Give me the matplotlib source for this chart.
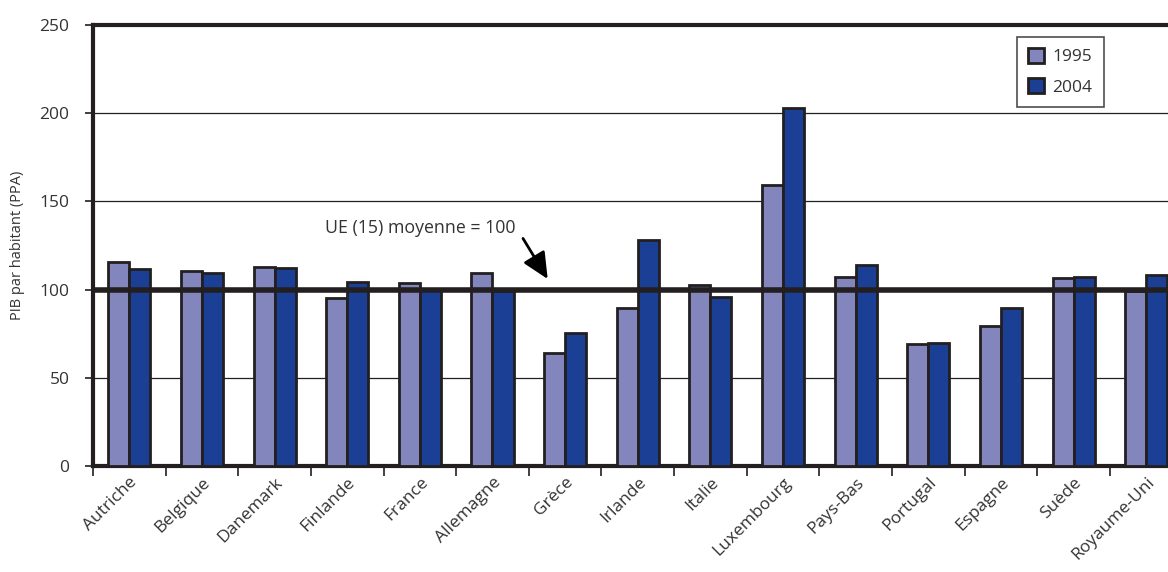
import numpy as np
import matplotlib.pyplot as plt

plt.rcParams['font.family'] = ['Open Sans', 'DejaVu Sans']

pays = ['Autriche', 'Belgique', 'Danemark', 'Finlande', 'France', 'Allemagne',
        'Grèce', 'Irlande', 'Italie', 'Luxembourg', 'Pays-Bas', 'Portugal',
        'Espagne', 'Suède', 'Royaume-Uni']
pib_1995 = [115.6, 110.5, 112.8, 95.2, 103.7, 109.4, 64.0, 89.6, 102.6,
            159.3, 107.0, 69.2, 79.4, 106.6, 99.2]
pib_2004 = [111.7, 109.4, 112.2, 104.3, 100.3, 99.2, 75.4, 128.0, 95.8,
            203.0, 114.0, 69.7, 89.6, 107.0, 108.3]
moyenne_ue = 100

c1995 = '#8386bd'
c2004 = '#1b3f94'
edge = '#231f20'
txt = '#333333'

fig = plt.figure(figsize=(11.68, 5.72), dpi=100)
ax = fig.add_axes([93/1168, 1 - 466/572, 1 - 93/1168, 441/572])

x = np.arange(len(pays))
w = 0.29
ax.bar(x - w/2, pib_1995, w, color=c1995, edgecolor=edge, linewidth=2,
       label='1995', zorder=3)
ax.bar(x + w/2, pib_2004, w, color=c2004, edgecolor=edge, linewidth=2,
       label='2004', zorder=3)

ax.axhline(moyenne_ue, color=edge, linewidth=4, zorder=4)
for g in [50, 150, 200]:
    ax.axhline(g, color=edge, linewidth=0.9, zorder=1)

ax.set_ylim(0, 250)
ax.set_xlim(-0.5, 14.3)
ax.set_yticks([0, 50, 100, 150, 200, 250])
ax.tick_params(axis='y', direction='out', length=6, width=1.2, color=edge,
               labelsize=12.5, labelcolor=txt, pad=11)

ax.set_xticks(x)
ax.set_xticklabels(pays, rotation=45, ha='right', rotation_mode='anchor',
                   fontsize=12.5, color=txt)
ax.tick_params(axis='x', which='major', length=0, pad=6)
ax.set_xticks(np.arange(len(pays)) - 0.5, minor=True)
ax.tick_params(axis='x', which='minor', direction='out', length=7, width=1.2,
               color=edge)

for s in ['left', 'bottom', 'top']:
    ax.spines[s].set_linewidth(3)
    ax.spines[s].set_color(edge)
ax.spines['right'].set_visible(False)

ax.set_ylabel('PIB par habitant (PPA)', fontsize=10.5, color=txt, labelpad=10)

ax.text(2.7, 135, 'UE (15) moyenne = 100', fontsize=12.8, color=txt,
        ha='left', va='center')
ax.annotate('', xy=(5.76, 106), xytext=(5.42, 129),
            arrowprops=dict(arrowstyle='-|>,head_length=1.6,head_width=0.75',
                            color='black', lw=2, shrinkA=0, shrinkB=0),
            zorder=5)

leg = ax.legend(loc='upper left', bbox_to_anchor=(924/1075, 0.973),
                borderaxespad=0, frameon=True, fancybox=False, fontsize=12.5,
                handlelength=0.9, handleheight=0.9, handletextpad=0.5,
                labelspacing=0.75, borderpad=0.65)
leg.get_frame().set_edgecolor(edge)
leg.get_frame().set_linewidth(1.2)
for t in leg.get_texts():
    t.set_color(txt)

fig.savefig('out.png', dpi=100)
